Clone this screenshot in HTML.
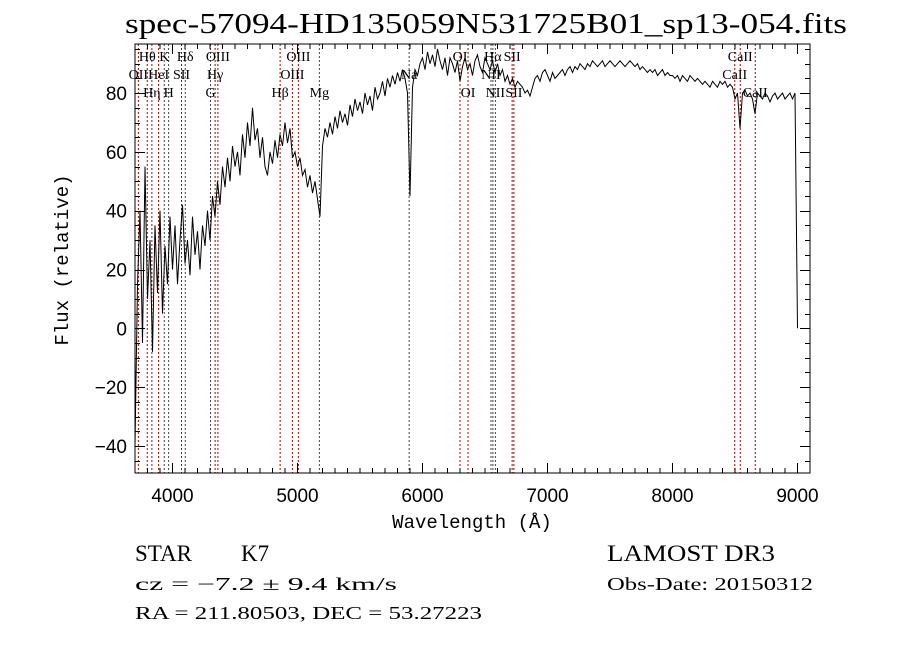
<!DOCTYPE html>
<html><head><meta charset="utf-8"><style>
html,body{margin:0;padding:0;background:#fff;}
svg{display:block;font-family:"Liberation Serif",serif;}
</style></head><body>
<svg id="chart" width="900" height="649" viewBox="0 0 900 649" xmlns="http://www.w3.org/2000/svg">
<rect x="0" y="0" width="900" height="649" fill="#fff"/>
<text x="486" y="33" font-size="28" text-anchor="middle" textLength="722" lengthAdjust="spacingAndGlyphs">spec-57094-HD135059N531725B01_sp13-054.fits</text>
<g id="lines"></g>
<g id="labels"></g>
<g id="series"></g>
<rect x="135" y="44" width="675" height="429" fill="none" stroke="#000" stroke-width="1"/>
<g id="axes"></g>
<text x="472" y="528" font-size="19" font-family="Liberation Mono,monospace" text-anchor="middle">Wavelength (Å)</text>
<text transform="translate(68,260) rotate(-90)" font-size="19" font-family="Liberation Mono,monospace" text-anchor="middle">Flux (relative)</text>
<text x="135" y="561" font-size="23">STAR</text>
<text x="241" y="561" font-size="23">K7</text>
<text x="135" y="590" font-size="18" textLength="262" lengthAdjust="spacingAndGlyphs">cz = −7.2 ± 9.4 km/s</text>
<text x="135" y="619" font-size="18" textLength="347" lengthAdjust="spacingAndGlyphs">RA = 211.80503, DEC =  53.27223</text>
<text x="607" y="561" font-size="23" textLength="168" lengthAdjust="spacingAndGlyphs">LAMOST DR3</text>
<text x="607" y="590" font-size="18" textLength="206" lengthAdjust="spacingAndGlyphs">Obs-Date: 20150312</text>
</svg>
<script>
const waveStart = 3700;
const waveStep = 20;
const flux = [
-40,15,40,-5,55,10,30,-8,35,12,40,5,28,15,38,
20,35,15,30,42,22,30,18,38,25,33,20,35,28,40,
30,45,38,50,42,55,48,58,50,62,55,60,52,66,58,
70,62,75,64,68,58,65,55,52,60,56,64,58,66,62,
70,63,68,58,60,55,58,52,54,48,52,46,50,44,38,
62,68,65,70,66,72,68,74,70,73,69,76,72,78,74,
77,73,80,76,79,74,82,78,80,84,79,85,82,86,83,
87,84,88,85,80,
45,82,88,86,90,92,88,94,90,93,89,95,91,88,92,
86,92,90,87,91,84,89,92,88,90,86,91,93,89,87,
92,90,88,91,87,90,86,88,84,86,83,85,82,84,83,
82,80,81,79,82,85,86,84,87,88,86,84,87,85,86,
87,88,86,88,89,87,89,88,90,89,88,90,89,91,90,
89,90,91,89,90,91,90,89,90,91,90,89,90,91,90,
89,90,88,89,88,87,88,87,88,86,87,88,86,87,86,
86,85,86,84,86,85,84,86,85,84,85,84,83,84,83,
82,84,83,82,84,83,84,82,83,82,
78,80,68,80,81,79,80,78,73,80,79,78,80,79,77,
79,80,78,79,80,78,79,80,78,80,
0];
const lineWaves = [3727,3798,3835,3889,3934,3969,4072,4102,4304,4341,4363,4861,4959,5007,5175,5893,6300,6364,6548,6563,6583,6717,6731,8498,8542,8662];
const lineNames = ["OII","Hθ","Hη","HeI","K","H","SII","Hδ","G","Hγ","OIII","Hβ","OIII","OIII","Mg","Na","OI","OI","NII","Hα","NII","SII","SII","CaII","CaII","CaII"];
const lineRows = [1,0,2,1,0,2,1,0,2,1,0,2,1,0,2,1,0,2,1,0,2,0,2,1,0,2];
const lineColors = ["r","r","r","r","k","k","r","k","k","r","r","r","r","r","k","k","r","r","k","k","k","r","r","r","r","r"];
const xTicks = [4000,5000,6000,7000,8000,9000];
const yTicks = [-40,-20,0,20,40,60,80];

const X0=135,X1=810,Y0=44,Y1=473;
const xMin=3700,xMax=9100,yMin=-49.2,yMax=96.7;
const X=w=>X0+(w-xMin)/(xMax-xMin)*(X1-X0);
const Y=v=>Y1-(v-yMin)/(yMax-yMin)*(Y1-Y0);
const NS="http://www.w3.org/2000/svg";
function mk(tag,attrs,parent){const e=document.createElementNS(NS,tag);for(const k in attrs)e.setAttribute(k,attrs[k]);parent.appendChild(e);return e;}

const gl=document.getElementById('lines'),glab=document.getElementById('labels');
const rowY=[61,79,97];
lineWaves.forEach((w,i)=>{
  const x=X(w);
  const l=mk('line',{x1:x,x2:x,y1:Y0,y2:Y1,stroke:lineColors[i]==="r"?"#b00000":"#444","stroke-width":1,"stroke-dasharray":"2,2"},gl);
  
  
  const t=mk('text',{x:x,y:rowY[lineRows[i]],"font-size":14,"text-anchor":"middle"},glab);
  t.textContent=lineNames[i];
  
  
});

const gs=document.getElementById('series');
let d="";
flux.forEach((v,i)=>{const w=waveStart+i*waveStep;d+=(i?"L":"M")+X(w).toFixed(1)+","+Y(v).toFixed(1);});
const p=mk('path',{d:d,fill:"none",stroke:"#000","stroke-width":1,"stroke-linejoin":"miter"},gs);



const ga=document.getElementById('axes');
for(let w=3700;w<=9100;w+=100){
  const x=X(w),maj=(w%1000===0),len=maj?10:5;
  mk('line',{x1:x,x2:x,y1:Y1,y2:Y1-len,stroke:"#000"},ga);
  mk('line',{x1:x,x2:x,y1:Y0,y2:Y0+len,stroke:"#000"},ga);
}
xTicks.forEach(w=>{
  const t=mk('text',{x:X(w),y:502,"font-size":19,"font-family":"Liberation Sans,sans-serif","text-anchor":"middle"},ga);
  t.textContent=w;
  
  
});
for(let v=-45;v<=95;v+=5){
  const y=Math.round(Y(v))+0.5,maj=(v%20===0),len=maj?10:5;
  mk('line',{x1:X0,x2:X0+len,y1:y,y2:y,stroke:"#000"},ga);
  mk('line',{x1:X1,x2:X1-len,y1:y,y2:y,stroke:"#000"},ga);
}
yTicks.forEach(v=>{
  const t=mk('text',{x:127,y:Y(v)+7,"font-size":19,"font-family":"Liberation Sans,sans-serif","text-anchor":"end"},ga);
  t.textContent=v<0?"−"+Math.abs(v):v;
  
  
});
</script>
</body></html>
